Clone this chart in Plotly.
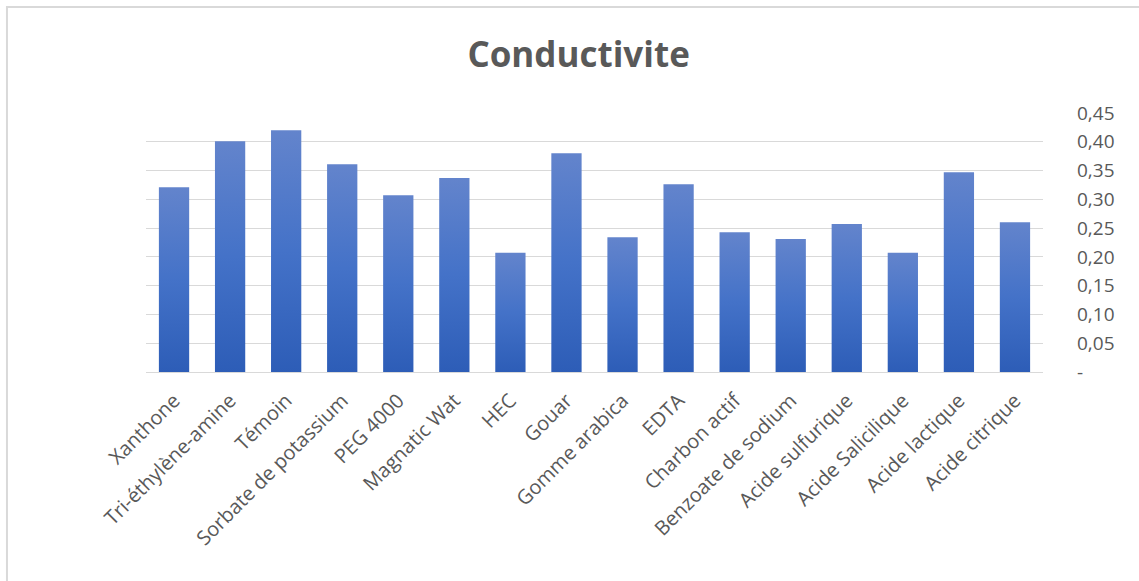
import plotly.graph_objects as go

categories = ["Xanthone", "Tri-éthylène-amine", "Témoin", "Sorbate de potassium", "PEG 4000",
              "Magnatic Wat", "HEC", "Gouar", "Gomme arabica", "EDTA", "Charbon actif",
              "Benzoate de sodium", "Acide sulfurique", "Acide Salicilique", "Acide lactique",
              "Acide citrique"]
values = [0.321, 0.401, 0.420, 0.361, 0.307, 0.337, 0.207, 0.380, 0.234, 0.326, 0.243,
          0.231, 0.257, 0.207, 0.347, 0.260]
tick_vals = [0, 0.05, 0.10, 0.15, 0.20, 0.25, 0.30, 0.35, 0.40, 0.45]
tick_text = ["-", "0,05", "0,10", "0,15", "0,20", "0,25", "0,30", "0,35", "0,40", "0,45"]

half = 0.27
fig = go.Figure()
for i, v in enumerate(values):
    fig.add_trace(go.Scatter(
        x=[i - half, i + half, i + half, i - half, i - half],
        y=[0, 0, v, v, 0],
        mode="lines", line=dict(width=0), fill="toself",
        fillgradient=dict(type="vertical",
                          colorscale=[[0, "#2D5DB7"], [0.5, "#4472C8"], [1, "#6384CC"]]),
        hoverinfo="text", text=f"{categories[i]}: {v}", showlegend=False))

font = "Open Sans, DejaVu Sans, sans-serif"
fig.update_layout(
    width=1139, height=581,
    margin=dict(l=146, r=96, t=113, b=209),
    paper_bgcolor="white", plot_bgcolor="white",
    title=dict(text="<b>Conductivite</b>", x=0.508, xanchor="center", y=0.905, yanchor="middle",
               font=dict(family=font, size=35, color="#595959")),
    font=dict(family=font, color="#595959"),
    xaxis=dict(range=[-0.5, len(categories) - 0.5], tickmode="array",
               tickvals=list(range(len(categories))), ticktext=categories,
               tickangle=-45, tickfont=dict(size=20, color="#595959"),
               showgrid=False, zeroline=False, showline=True, linecolor="#D9D9D9",
               linewidth=1, ticks="", ticklabelstandoff=8),
    yaxis=dict(range=[0, 0.45], side="right", tickmode="array", tickvals=tick_vals,
               ticktext=tick_text, tickfont=dict(size=19, color="#595959"),
               showgrid=True, gridcolor="#D9D9D9", gridwidth=1, zeroline=False,
               showline=False, ticks="", ticklabelstandoff=33),
    shapes=[dict(type="rect", xref="paper", yref="paper", x0=-0.155, x1=2,
                 y0=-3, y1=1.409, line=dict(color="#D9D9D9", width=2),
                 fillcolor="rgba(0,0,0,0)", layer="below")],
)
fig.write_html("out.html")
